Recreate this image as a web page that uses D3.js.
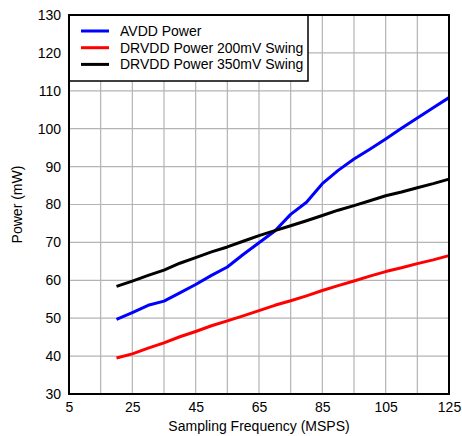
<!DOCTYPE html>
<html><head><meta charset="utf-8">
<script src="https://cdn.jsdelivr.net/npm/d3@7"></script>
<style>body{margin:0;background:#fff;}svg{display:block;font-family:"Liberation Sans",Arial,sans-serif;}</style>
</head><body><svg id="c" width="462" height="436"></svg>
<script>
const freq = [20,25,30,35,40,45,50,55,60,65,70,75,80,85,90,95,100,105,110,115,120,125];
const avdd = [49.7,51.5,53.4,54.5,56.7,58.9,61.3,63.5,66.8,69.9,73.0,77.4,80.6,85.5,89.0,92.0,94.6,97.3,100.1,102.8,105.5,108.2];
const drvdd200 = [39.5,40.6,42.1,43.5,45.1,46.5,48.0,49.3,50.6,52.0,53.4,54.6,55.9,57.3,58.6,59.8,61.1,62.3,63.3,64.4,65.4,66.5];
const drvdd350 = [58.4,59.8,61.3,62.7,64.5,66.0,67.5,68.8,70.3,71.8,73.1,74.4,75.7,77.1,78.5,79.7,81.0,82.3,83.3,84.4,85.5,86.7];
const seriesNames = ["AVDD Power","DRVDD Power 200mV Swing","DRVDD Power 350mV Swing"];
const seriesColors = ["#0000ff","#ff0000","#000000"];
const xTicks = [5,25,45,65,85,105,125];
const xGrid = [15,25,35,45,55,65,75,85,95,105,115];
const yTicks = [30,40,50,60,70,80,90,100,110,120,130];

const svg = d3.select("#c");
const L=69, R=449, T=15, B=394;
const FS = 14;
const x = d3.scaleLinear().domain([5,125]).range([L,R]);
const y = d3.scaleLinear().domain([30,130]).range([B,T]);

// grid
svg.append("g").selectAll("line").data(xGrid).join("line")
  .attr("x1",d=>x(d)).attr("x2",d=>x(d)).attr("y1",T).attr("y2",B)
  .attr("stroke","#b4b4b4").attr("stroke-width",1.2);
svg.append("g").selectAll("line").data(yTicks.slice(1,-1)).join("line")
  .attr("x1",L).attr("x2",R).attr("y1",d=>y(d)).attr("y2",d=>y(d))
  .attr("stroke","#b4b4b4").attr("stroke-width",1.2);

// lines
const data = [avdd, drvdd200, drvdd350];
const line = d3.line().x((d,i)=>x(freq[i])).y(d=>y(d));
svg.append("g").selectAll("path").data(data).join("path")
  .attr("d",line).attr("fill","none")
  .attr("stroke",(d,i)=>seriesColors[i]).attr("stroke-width",3)
  .attr("stroke-linejoin","round");

// legend
const lg = svg.append("g");
lg.append("rect").attr("x",L).attr("y",T).attr("width",239).attr("height",66)
  .attr("fill","#fff").attr("stroke","#000").attr("stroke-width",1.5);
seriesNames.forEach((n,i)=>{
  const yy = 31 + i*16.7;
  lg.append("line").attr("x1",81).attr("x2",109).attr("y1",yy).attr("y2",yy)
    .attr("stroke",seriesColors[i]).attr("stroke-width",3);
  lg.append("text").attr("x",120).attr("y",yy).attr("dy","0.35em")
    .attr("font-size",FS).attr("fill","#000").text(n);
});

// frame
svg.append("rect").attr("x",L).attr("y",T).attr("width",R-L).attr("height",B-T)
  .attr("fill","none").attr("stroke","#000").attr("stroke-width",2);

// axes
const xa = svg.append("g").attr("transform",`translate(0,${B})`)
  .call(d3.axisBottom(x).tickValues(xTicks).tickSize(0).tickPadding(8).tickFormat(d3.format("d")));
const ya = svg.append("g").attr("transform",`translate(${L},0)`)
  .call(d3.axisLeft(y).tickValues(yTicks).tickSize(0).tickPadding(8).tickFormat(d3.format("d")));
[xa,ya].forEach(a=>{a.select(".domain").remove();
  a.selectAll("text").attr("font-size",FS).attr("fill","#000").attr("font-family","Liberation Sans, Arial, sans-serif");});

svg.append("text").attr("x",(L+R)/2).attr("y",431).attr("text-anchor","middle")
  .attr("font-size",FS).text("Sampling Frequency (MSPS)");
svg.append("text").attr("transform",`translate(22,${(T+B)/2}) rotate(-90)`)
  .attr("text-anchor","middle").attr("font-size",FS).text("Power (mW)");
</script></body></html>
